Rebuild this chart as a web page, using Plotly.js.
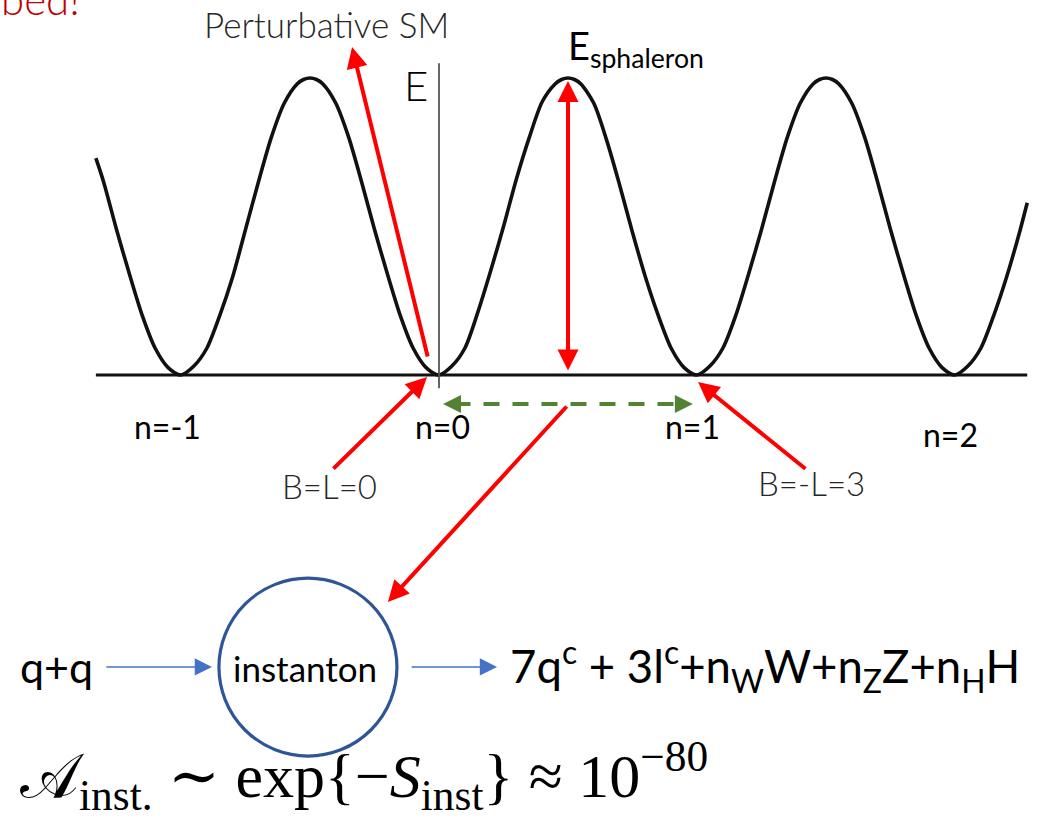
<!DOCTYPE html>
<html>
<head>
<meta charset="utf-8">
<script src="https://cdn.plot.ly/plotly-3.0.1.min.js"></script>
<style>html,body{margin:0;padding:0;background:#fff;}#chart{width:1038px;height:818px;}</style>
</head>
<body>
<div id="chart"></div>
<script>
// ---- data (x: winding number n, y: E / E_sphaleron) ----
const nValues = [-1.33,-1.30,-1.25,-1.20,-1.15,-1.10,-1.05,-1.00,
  -0.95,-0.90,-0.85,-0.80,-0.75,-0.70,-0.65,-0.60,-0.55,-0.525,-0.50,-0.475,-0.45,-0.40,-0.35,-0.30,-0.25,-0.20,-0.15,-0.10,-0.05,0.00,
  0.05,0.10,0.15,0.20,0.25,0.30,0.35,0.40,0.45,0.475,0.50,0.525,0.55,0.60,0.65,0.70,0.75,0.80,0.85,0.90,0.95,1.00,
  1.05,1.10,1.15,1.20,1.25,1.30,1.35,1.40,1.45,1.475,1.50,1.525,1.55,1.60,1.65,1.70,1.75,1.80,1.85,1.90,1.95,2.00,
  2.05,2.10,2.15,2.20,2.25,2.28];
const energyValues = [0.73,0.65,0.49,0.34,0.20,0.09,0.025,0,
  0.03,0.09,0.20,0.33,0.49,0.65,0.80,0.915,0.98,0.995,1.00,0.995,0.98,0.915,0.80,0.65,0.49,0.34,0.20,0.09,0.025,0,
  0.03,0.09,0.21,0.35,0.50,0.66,0.80,0.92,0.98,0.995,1.00,0.995,0.98,0.915,0.79,0.64,0.48,0.33,0.20,0.09,0.025,0,
  0.03,0.09,0.20,0.34,0.49,0.65,0.80,0.915,0.98,0.995,1.00,0.995,0.98,0.915,0.80,0.65,0.49,0.34,0.20,0.09,0.025,0,
  0.03,0.09,0.20,0.33,0.48,0.58];
const baselineN = [-1.33, 2.28];
const baselineE = [0, 0];
const axisN = [0, 0];
const axisE = [-0.045, 1.05];
const vacuumLabels = ["n=-1", "n=0", "n=1", "n=2"];
const vacuumN = [-1.054, 0.012, 0.981, 1.981];
const vacuumLabelE = [-0.175, -0.175, -0.175, -0.202];
const chargeLabels = ["B=L=0", "B=-L=3"];
const sphaleronE = 1.0;
const transitionN = [0.06, 0.93];
const transitionE = [-0.0976, -0.0976];

const sans = "Lato, Carlito, 'Open Sans', sans-serif";
const serif = "'Liberation Serif', 'DejaVu Serif', serif";
const red = "#FF0000";
const blue = "#4472C4";

const traces = [
  {x: nValues, y: energyValues, mode: "lines", line: {color: "#111111", width: 3.6, shape: "spline", smoothing: 0.8}, hoverinfo: "skip"},
  {x: baselineN, y: baselineE, mode: "lines", line: {color: "#111111", width: 3.2}, hoverinfo: "skip"},
  {x: axisN, y: axisE, mode: "lines", line: {color: "#555555", width: 1.8}, hoverinfo: "skip"},
  {x: transitionN, y: transitionE, mode: "lines", line: {color: "#548235", width: 4, dash: "16px,13px"}, hoverinfo: "skip"}
];

function arrow(x, y, ax, ay, color, width, size, extra) {
  return Object.assign({x: x, y: y, ax: ax, ay: ay, xref: "x", yref: "y", axref: "x", ayref: "y",
    text: "", showarrow: true, arrowhead: 2, arrowsize: size, arrowwidth: width, arrowcolor: color, standoff: 0}, extra || {});
}
function label(x, y, text, size, color, extra) {
  return Object.assign({x: x, y: y, xref: "x", yref: "y", text: text, showarrow: false,
    font: {family: sans, size: size, color: color}, xanchor: "center", yanchor: "middle"}, extra || {});
}
function light(size, color) { return {family: sans, size: size, color: color, weight: 300}; }

const annotations = [
  // arrows
  arrow(-0.337, 1.104, -0.0426, 0.057, red, 4, 1.05),
  arrow(0.5, sphaleronE - 0.01, 0.5, 0.01, red, 4, 1.05, {arrowside: "end+start"}),
  arrow(-0.0465, -0.0067, -0.415, -0.320, red, 4, 1.05),
  arrow(1.004, -0.0236, 1.426, -0.320, red, 4, 1.05),
  arrow(-0.198, -0.764, 0.5, -0.101, red, 4, 1.05),
  arrow(0.0155, -0.0976, 0.07, -0.0976, "#548235", 4, 0.9),
  arrow(0.984, -0.0976, 0.93, -0.0976, "#548235", 4, 0.9),
  arrow(-0.880, -0.983, -1.295, -0.983, blue, 1.5, 2.3),
  arrow(0.225, -0.983, -0.112, -0.983, blue, 1.5, 2.3),
  // labels
  label(-0.438, 1.182, "Perturbative SM", 35, "#262626", {font: light(35, "#262626")}),
  label(-0.089, 0.976, "E", 42, "#000000", {font: light(42, "#000000")}),
  label(0.762, 1.10, "E<sub>sphaleron</sub>", 38, "#000000"),
  label(vacuumN[0], vacuumLabelE[0], vacuumLabels[0], 32, "#000000"),
  label(vacuumN[1], vacuumLabelE[1], vacuumLabels[1], 32, "#000000"),
  label(vacuumN[2], vacuumLabelE[2], vacuumLabels[2], 32, "#000000"),
  label(vacuumN[3], vacuumLabelE[3], vacuumLabels[3], 32, "#000000"),
  label(-0.426, -0.374, chargeLabels[0], 33, "#262626", {font: light(33, "#262626")}),
  label(1.442, -0.364, chargeLabels[1], 33, "#262626", {font: light(33, "#262626")}),
  label(-1.484, -0.980, "q+q", 43, "#000000"),
  label(-0.519, -0.987, "instanton", 35, "#000000"),
  label(0.267, -0.980, "7q<sup>c</sup> + 3l<sup>c</sup>+n<sub>W</sub>W+n<sub>Z</sub>Z+n<sub>H</sub>H", 45.5, "#000000", {xanchor: "left"}),
  label(-1.632, -1.35, "𝒜<sub>inst.</sub> ∼ exp{−<i>S</i><sub>inst</sub>} ≈ 10<sup>−80</sup>", 62, "#000000", {xanchor: "left", font: {family: serif, size: 62, color: "#000000"}}),
  {x: 82 / 1038, y: 1, xref: "paper", yref: "paper", text: "bed!", showarrow: false,
   xanchor: "right", yanchor: "middle", yshift: 1, font: light(42, "#C00000")}
];

const shapes = [
  {type: "circle", xref: "x", yref: "y", x0: -0.853, x1: -0.163, y0: -1.283, y1: -0.684,
   line: {color: "#2F5597", width: 3.2}, fillcolor: "rgba(0,0,0,0)"}
];

const layout = {
  width: 1038, height: 818,
  margin: {l: 0, r: 0, t: 0, b: 0, pad: 0},
  paper_bgcolor: "#ffffff", plot_bgcolor: "#ffffff",
  showlegend: false,
  xaxis: {range: [-1.7016, 2.3217], visible: false, fixedrange: true},
  yaxis: {range: [-1.4916, 1.2626], visible: false, fixedrange: true},
  annotations: annotations,
  shapes: shapes
};

Plotly.newPlot("chart", traces, layout, {displayModeBar: false, staticPlot: true});
</script>
</body>
</html>
